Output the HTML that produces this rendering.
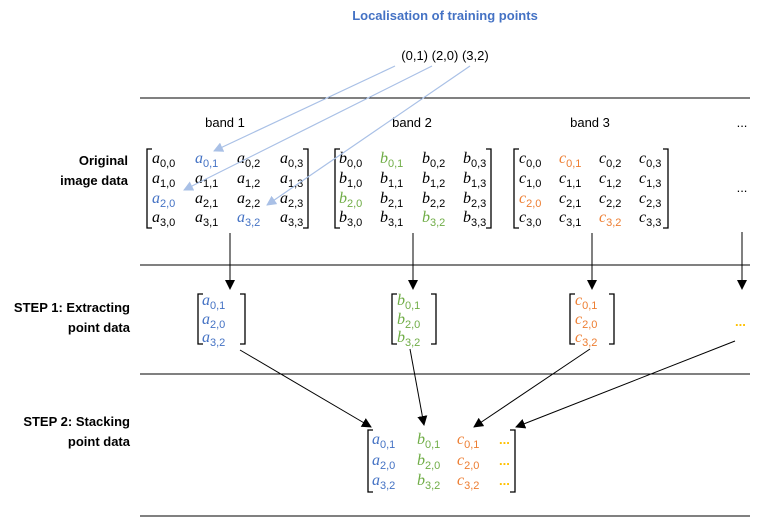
<!DOCTYPE html>
<html><head><meta charset="utf-8"><style>
body{margin:0;background:#fff;width:776px;height:519px;overflow:hidden}
svg{display:block}
.l{font-family:"Liberation Serif",serif;font-style:italic;font-size:16px}
.s{font-style:normal;font-size:11px;font-family:"Liberation Sans",sans-serif}
.t{font-family:"Liberation Sans",sans-serif;font-size:13px}
.b{font-family:"Liberation Sans",sans-serif;font-size:13px;font-weight:bold}
.B{fill:#4472C4}.G{fill:#70AD47}.O{fill:#ED7D31}.Y{fill:#FFC000}
</style></head><body>
<svg width="776" height="519" viewBox="0 0 776 519">
<defs>
<marker id="k" markerWidth="10" markerHeight="10" refX="9" refY="5" orient="auto" markerUnits="userSpaceOnUse"><path d="M0,0 L10,5 L0,10 z" fill="#000"/></marker>
<marker id="lb" markerWidth="10" markerHeight="10" refX="9" refY="5" orient="auto" markerUnits="userSpaceOnUse"><path d="M0,0 L10,5 L0,10 z" fill="#A9C0E6"/></marker>
</defs>
<text x="445" y="20" text-anchor="middle" class="b" fill="#4472C4">Localisation of training points</text>
<text x="445" y="60" text-anchor="middle" class="t" fill="#000">(0,1)  (2,0)  (3,2)</text>
<g stroke="#000" stroke-width="1">
<line x1="140" y1="98" x2="750" y2="98"/><line x1="140" y1="265" x2="750" y2="265"/>
<line x1="140" y1="374" x2="750" y2="374"/><line x1="140" y1="516" x2="750" y2="516"/>
</g>
<g class="t" fill="#000">
<text x="225" y="127" text-anchor="middle">band 1</text>
<text x="412" y="127" text-anchor="middle">band 2</text>
<text x="590" y="127" text-anchor="middle">band 3</text>
<text x="742" y="127" text-anchor="middle">...</text>
<text x="742" y="192" text-anchor="middle">...</text>
</g>
<g class="b" fill="#000" text-anchor="end">
<text x="128" y="165">Original</text><text x="128" y="185">image data</text>
<text x="130" y="312">STEP 1:  Extracting</text><text x="130" y="332">point data</text>
<text x="130" y="426">STEP 2: Stacking</text><text x="130" y="446">point data</text>
</g>
<g fill="none" stroke="#000" stroke-width="1.3">
<path d="M152,149 H147 V228 H152"/><path d="M303,149 H308 V228 H303"/>
<path d="M340,149 H335 V228 H340"/><path d="M486,149 H491 V228 H486"/>
<path d="M519,149 H514 V228 H519"/><path d="M663,149 H668 V228 H663"/>
<path d="M203,294 H198 V344 H203"/><path d="M240,294 H245 V344 H240"/>
<path d="M397,294 H392 V344 H397"/><path d="M431,294 H436 V344 H431"/>
<path d="M575,294 H570 V344 H575"/><path d="M609,294 H614 V344 H609"/>
<path d="M373,430 H368 V492 H373"/><path d="M510,430 H515 V492 H510"/>
</g>
<g class="l" fill="#000">
<text x="152" y="163">a<tspan class="s" dy="4">0,0</tspan></text>
<text x="195" y="163" class="B">a<tspan class="s" dy="4">0,1</tspan></text>
<text x="237" y="163">a<tspan class="s" dy="4">0,2</tspan></text>
<text x="280" y="163">a<tspan class="s" dy="4">0,3</tspan></text>
<text x="152" y="183">a<tspan class="s" dy="4">1,0</tspan></text>
<text x="195" y="183">a<tspan class="s" dy="4">1,1</tspan></text>
<text x="237" y="183">a<tspan class="s" dy="4">1,2</tspan></text>
<text x="280" y="183">a<tspan class="s" dy="4">1,3</tspan></text>
<text x="152" y="203" class="B">a<tspan class="s" dy="4">2,0</tspan></text>
<text x="195" y="203">a<tspan class="s" dy="4">2,1</tspan></text>
<text x="237" y="203">a<tspan class="s" dy="4">2,2</tspan></text>
<text x="280" y="203">a<tspan class="s" dy="4">2,3</tspan></text>
<text x="152" y="222">a<tspan class="s" dy="4">3,0</tspan></text>
<text x="195" y="222">a<tspan class="s" dy="4">3,1</tspan></text>
<text x="237" y="222" class="B">a<tspan class="s" dy="4">3,2</tspan></text>
<text x="280" y="222">a<tspan class="s" dy="4">3,3</tspan></text>
<text x="339" y="163">b<tspan class="s" dy="4">0,0</tspan></text>
<text x="380" y="163" class="G">b<tspan class="s" dy="4">0,1</tspan></text>
<text x="422" y="163">b<tspan class="s" dy="4">0,2</tspan></text>
<text x="463" y="163">b<tspan class="s" dy="4">0,3</tspan></text>
<text x="339" y="183">b<tspan class="s" dy="4">1,0</tspan></text>
<text x="380" y="183">b<tspan class="s" dy="4">1,1</tspan></text>
<text x="422" y="183">b<tspan class="s" dy="4">1,2</tspan></text>
<text x="463" y="183">b<tspan class="s" dy="4">1,3</tspan></text>
<text x="339" y="203" class="G">b<tspan class="s" dy="4">2,0</tspan></text>
<text x="380" y="203">b<tspan class="s" dy="4">2,1</tspan></text>
<text x="422" y="203">b<tspan class="s" dy="4">2,2</tspan></text>
<text x="463" y="203">b<tspan class="s" dy="4">2,3</tspan></text>
<text x="339" y="222">b<tspan class="s" dy="4">3,0</tspan></text>
<text x="380" y="222">b<tspan class="s" dy="4">3,1</tspan></text>
<text x="422" y="222" class="G">b<tspan class="s" dy="4">3,2</tspan></text>
<text x="463" y="222">b<tspan class="s" dy="4">3,3</tspan></text>
<text x="519" y="163">c<tspan class="s" dy="4">0,0</tspan></text>
<text x="559" y="163" class="O">c<tspan class="s" dy="4">0,1</tspan></text>
<text x="599" y="163">c<tspan class="s" dy="4">0,2</tspan></text>
<text x="639" y="163">c<tspan class="s" dy="4">0,3</tspan></text>
<text x="519" y="183">c<tspan class="s" dy="4">1,0</tspan></text>
<text x="559" y="183">c<tspan class="s" dy="4">1,1</tspan></text>
<text x="599" y="183">c<tspan class="s" dy="4">1,2</tspan></text>
<text x="639" y="183">c<tspan class="s" dy="4">1,3</tspan></text>
<text x="519" y="203" class="O">c<tspan class="s" dy="4">2,0</tspan></text>
<text x="559" y="203">c<tspan class="s" dy="4">2,1</tspan></text>
<text x="599" y="203">c<tspan class="s" dy="4">2,2</tspan></text>
<text x="639" y="203">c<tspan class="s" dy="4">2,3</tspan></text>
<text x="519" y="222">c<tspan class="s" dy="4">3,0</tspan></text>
<text x="559" y="222">c<tspan class="s" dy="4">3,1</tspan></text>
<text x="599" y="222" class="O">c<tspan class="s" dy="4">3,2</tspan></text>
<text x="639" y="222">c<tspan class="s" dy="4">3,3</tspan></text>
<text x="202" y="305" class="B">a<tspan class="s" dy="4">0,1</tspan></text>
<text x="202" y="324" class="B">a<tspan class="s" dy="4">2,0</tspan></text>
<text x="202" y="342" class="B">a<tspan class="s" dy="4">3,2</tspan></text>
<text x="397" y="305" class="G">b<tspan class="s" dy="4">0,1</tspan></text>
<text x="397" y="324" class="G">b<tspan class="s" dy="4">2,0</tspan></text>
<text x="397" y="342" class="G">b<tspan class="s" dy="4">3,2</tspan></text>
<text x="575" y="305" class="O">c<tspan class="s" dy="4">0,1</tspan></text>
<text x="575" y="324" class="O">c<tspan class="s" dy="4">2,0</tspan></text>
<text x="575" y="342" class="O">c<tspan class="s" dy="4">3,2</tspan></text>
<text x="372" y="444" class="B">a<tspan class="s" dy="4">0,1</tspan></text>
<text x="372" y="465" class="B">a<tspan class="s" dy="4">2,0</tspan></text>
<text x="372" y="485" class="B">a<tspan class="s" dy="4">3,2</tspan></text>
<text x="417" y="444" class="G">b<tspan class="s" dy="4">0,1</tspan></text>
<text x="417" y="465" class="G">b<tspan class="s" dy="4">2,0</tspan></text>
<text x="417" y="485" class="G">b<tspan class="s" dy="4">3,2</tspan></text>
<text x="457" y="444" class="O">c<tspan class="s" dy="4">0,1</tspan></text>
<text x="457" y="465" class="O">c<tspan class="s" dy="4">2,0</tspan></text>
<text x="457" y="485" class="O">c<tspan class="s" dy="4">3,2</tspan></text>
</g>
<g class="t Y" font-weight="bold">
<text x="735" y="326">...</text>
<text x="499" y="444">...</text><text x="499" y="465">...</text><text x="499" y="485">...</text>
</g>
<g stroke="#A9C0E6" stroke-width="1.2" fill="none" marker-end="url(#lb)">
<line x1="395" y1="66" x2="214" y2="151"/>
<line x1="432" y1="66" x2="184" y2="190"/>
<line x1="470" y1="66" x2="267" y2="205"/>
</g>
<g stroke="#000" stroke-width="1" marker-end="url(#k)">
<line x1="230" y1="233" x2="230" y2="289"/>
<line x1="413" y1="233" x2="413" y2="289"/>
<line x1="592" y1="233" x2="592" y2="289"/>
<line x1="742" y1="232" x2="742" y2="289"/>
<line x1="240" y1="350" x2="371" y2="427"/>
<line x1="410" y1="349" x2="424" y2="425"/>
<line x1="590" y1="349" x2="474" y2="427"/>
<line x1="735" y1="341" x2="516" y2="427"/>
</g>
</svg>
</body></html>
